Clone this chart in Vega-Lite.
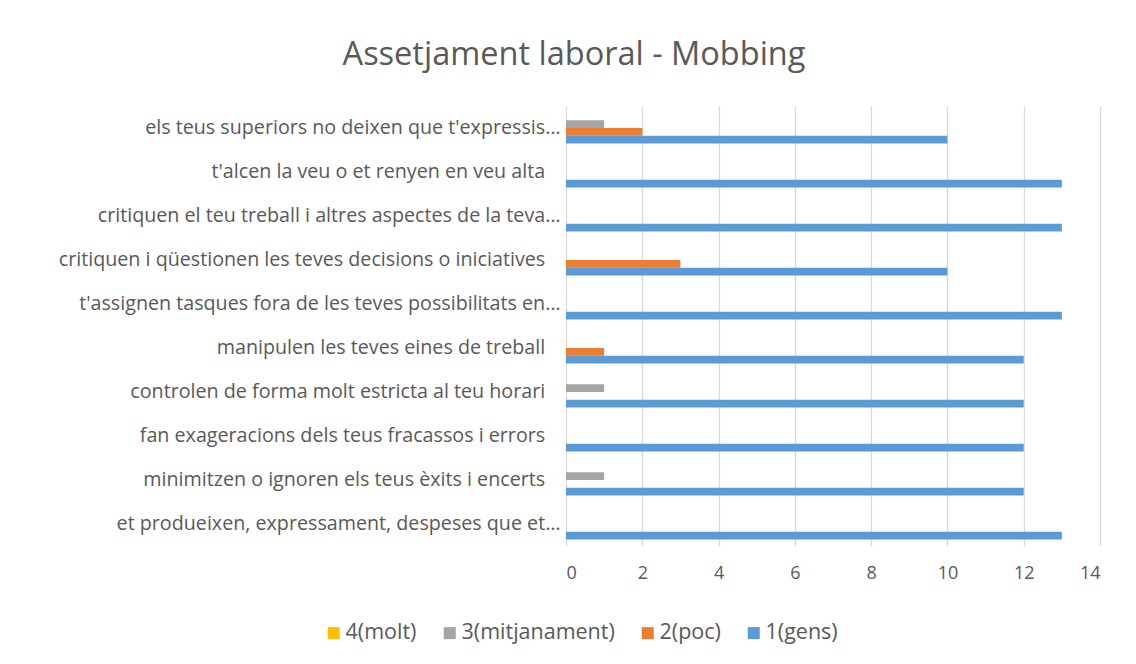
{
  "$schema": "https://vega.github.io/schema/vega-lite/v6.json",
  "autosize": "none",
  "width": 534,
  "height": 440,
  "padding": {"left": 566, "top": 106, "right": 36, "bottom": 118},
  "background": "white",
  "title": {
    "text": "Assetjament laboral - Mobbing",
    "anchor": "middle",
    "frame": "group",
    "dx": -259,
    "offset": 9,
    "baseline": "alphabetic",
    "font": "Open Sans",
    "fontSize": 32.5,
    "fontWeight": "normal",
    "color": "#595959"
  },
  "data": {
    "values": [
      {"item": "els teus superiors no deixen que t'expressis…", "serie": "4(molt)", "n": 0},
      {"item": "els teus superiors no deixen que t'expressis…", "serie": "3(mitjanament)", "n": 1},
      {"item": "els teus superiors no deixen que t'expressis…", "serie": "2(poc)", "n": 2},
      {"item": "els teus superiors no deixen que t'expressis…", "serie": "1(gens)", "n": 10},
      {"item": "t'alcen la veu o et renyen en veu alta", "serie": "4(molt)", "n": 0},
      {"item": "t'alcen la veu o et renyen en veu alta", "serie": "3(mitjanament)", "n": 0},
      {"item": "t'alcen la veu o et renyen en veu alta", "serie": "2(poc)", "n": 0},
      {"item": "t'alcen la veu o et renyen en veu alta", "serie": "1(gens)", "n": 13},
      {"item": "critiquen el teu treball i altres aspectes de la teva…", "serie": "4(molt)", "n": 0},
      {"item": "critiquen el teu treball i altres aspectes de la teva…", "serie": "3(mitjanament)", "n": 0},
      {"item": "critiquen el teu treball i altres aspectes de la teva…", "serie": "2(poc)", "n": 0},
      {"item": "critiquen el teu treball i altres aspectes de la teva…", "serie": "1(gens)", "n": 13},
      {"item": "critiquen i qüestionen les teves decisions o iniciatives", "serie": "4(molt)", "n": 0},
      {"item": "critiquen i qüestionen les teves decisions o iniciatives", "serie": "3(mitjanament)", "n": 0},
      {"item": "critiquen i qüestionen les teves decisions o iniciatives", "serie": "2(poc)", "n": 3},
      {"item": "critiquen i qüestionen les teves decisions o iniciatives", "serie": "1(gens)", "n": 10},
      {"item": "t'assignen tasques fora de les teves possibilitats en…", "serie": "4(molt)", "n": 0},
      {"item": "t'assignen tasques fora de les teves possibilitats en…", "serie": "3(mitjanament)", "n": 0},
      {"item": "t'assignen tasques fora de les teves possibilitats en…", "serie": "2(poc)", "n": 0},
      {"item": "t'assignen tasques fora de les teves possibilitats en…", "serie": "1(gens)", "n": 13},
      {"item": "manipulen les teves eines de treball", "serie": "4(molt)", "n": 0},
      {"item": "manipulen les teves eines de treball", "serie": "3(mitjanament)", "n": 0},
      {"item": "manipulen les teves eines de treball", "serie": "2(poc)", "n": 1},
      {"item": "manipulen les teves eines de treball", "serie": "1(gens)", "n": 12},
      {"item": "controlen de forma molt estricta al teu horari", "serie": "4(molt)", "n": 0},
      {"item": "controlen de forma molt estricta al teu horari", "serie": "3(mitjanament)", "n": 1},
      {"item": "controlen de forma molt estricta al teu horari", "serie": "2(poc)", "n": 0},
      {"item": "controlen de forma molt estricta al teu horari", "serie": "1(gens)", "n": 12},
      {"item": "fan exageracions dels teus fracassos i errors", "serie": "4(molt)", "n": 0},
      {"item": "fan exageracions dels teus fracassos i errors", "serie": "3(mitjanament)", "n": 0},
      {"item": "fan exageracions dels teus fracassos i errors", "serie": "2(poc)", "n": 0},
      {"item": "fan exageracions dels teus fracassos i errors", "serie": "1(gens)", "n": 12},
      {"item": "minimitzen o ignoren els teus èxits i encerts", "serie": "4(molt)", "n": 0},
      {"item": "minimitzen o ignoren els teus èxits i encerts", "serie": "3(mitjanament)", "n": 1},
      {"item": "minimitzen o ignoren els teus èxits i encerts", "serie": "2(poc)", "n": 0},
      {"item": "minimitzen o ignoren els teus èxits i encerts", "serie": "1(gens)", "n": 12},
      {"item": "et produeixen, expressament, despeses que et…", "serie": "4(molt)", "n": 0},
      {"item": "et produeixen, expressament, despeses que et…", "serie": "3(mitjanament)", "n": 0},
      {"item": "et produeixen, expressament, despeses que et…", "serie": "2(poc)", "n": 0},
      {"item": "et produeixen, expressament, despeses que et…", "serie": "1(gens)", "n": 13}
    ]
  },
  "mark": {"type": "bar"},
  "encoding": {
    "y": {
      "field": "item",
      "type": "nominal",
      "sort": null,
      "scale": {"paddingInner": 0.3, "paddingOuter": 0.15},
      "axis": {
        "title": null,
        "domain": false,
        "ticks": false,
        "labelPadding": 6,
        "labelLimit": 0,
        "labelFont": "Open Sans",
        "labelFontSize": 19.7,
        "labelColor": "#595959",
        "labelExpr": "indexof(datum.label, '…') < 0 ? datum.label + '\u00a0\u00a0\u00a0\u200b' : datum.label"
      }
    },
    "yOffset": {
      "field": "serie",
      "type": "nominal",
      "scale": {"domain": ["4(molt)", "3(mitjanament)", "2(poc)", "1(gens)"], "paddingInner": 0, "paddingOuter": 0}
    },
    "x": {
      "field": "n",
      "type": "quantitative",
      "scale": {"domain": [0, 14], "nice": false},
      "axis": {
        "title": null,
        "values": [0, 2, 4, 6, 8, 10, 12, 14],
        "domain": false,
        "ticks": false,
        "grid": true,
        "gridColor": "#d9d9d9",
        "gridWidth": 1.3,
        "labelPadding": 18,
        "labelFont": "Open Sans",
        "labelFontSize": 18,
        "labelColor": "#595959"
      }
    },
    "color": {
      "field": "serie",
      "type": "nominal",
      "scale": {
        "domain": ["4(molt)", "3(mitjanament)", "2(poc)", "1(gens)"],
        "range": ["#FFC000", "#A5A5A5", "#ED7D31", "#5B9BD5"]
      },
      "legend": {
        "title": null,
        "orient": "none",
        "direction": "horizontal",
        "legendX": -243,
        "legendY": 516,
        "columns": 4,
        "columnPadding": 22,
        "symbolType": "square",
        "symbolSize": 144,
        "symbolStrokeWidth": 0,
        "labelFont": "Open Sans",
        "labelFontSize": 21.5,
        "labelColor": "#595959",
        "labelOffset": 1
      }
    }
  },
  "config": {
    "view": {"stroke": null}
  }
}
